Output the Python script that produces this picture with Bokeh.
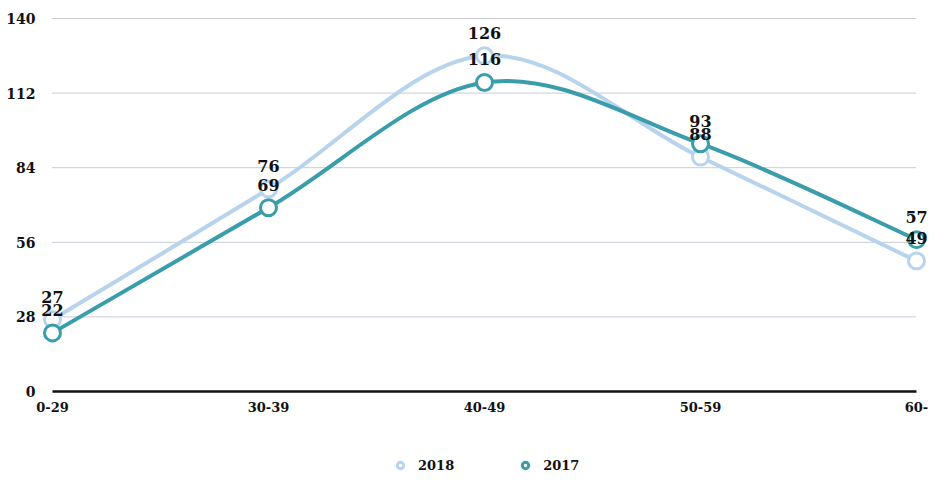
from bokeh.plotting import figure
from bokeh.models import (Range1d, Legend, LegendItem, ColumnDataSource, LabelSet)
from bokeh.embed import file_html
from bokeh.resources import INLINE
from bokeh.core.properties import value

categories = ["0-29", "30-39", "40-49", "50-59", "60-"]
values_2018 = [27, 76, 126, 88, 49]
values_2017 = [22, 69, 116, 93, 57]
y_ticks = [0, 28, 56, 84, 112, 140]

C2018 = "#b7d4ec"
C2017 = "#3a9dab"
FONT = "DejaVu Serif"

xs = list(range(len(categories)))

# frame spans the whole figure so labels/legend are never clipped
p = figure(width=931, height=473, output_backend="svg", toolbar_location=None,
           x_range=Range1d(-0.2407, 4.0694), y_range=Range1d(-30.78, 146.76),
           min_border_left=0, min_border_right=0, min_border_top=0, min_border_bottom=0)
p.outline_line_color = None
p.background_fill_color = "white"
p.border_fill_color = "white"
p.xgrid.visible = False
p.ygrid.visible = False
p.xaxis.visible = False
p.yaxis.visible = False

# gridlines across category span
p.segment(x0=[xs[0]] * (len(y_ticks) - 1), x1=[xs[-1]] * (len(y_ticks) - 1),
          y0=y_ticks[1:], y1=y_ticks[1:], line_color="#9398ad", line_width=1, line_dash="1 1")
p.segment(x0=[xs[0]], x1=[xs[-1]], y0=[y_ticks[0]], y1=[y_ticks[0]],
          line_color="#111111", line_width=2.5)


def bezier_src(x, y):
    n = len(x)
    d = dict(x0=[], y0=[], x1=[], y1=[], cx0=[], cy0=[], cx1=[], cy1=[])
    for i in range(n - 1):
        pm = i - 1 if i > 0 else 0
        pn = i + 2 if i + 2 < n else n - 1
        d["x0"].append(x[i]); d["y0"].append(y[i])
        d["x1"].append(x[i + 1]); d["y1"].append(y[i + 1])
        d["cx0"].append(x[i] + (x[i + 1] - x[pm]) / 6)
        d["cy0"].append(y[i] + (y[i + 1] - y[pm]) / 6)
        d["cx1"].append(x[i + 1] - (x[pn] - x[i]) / 6)
        d["cy1"].append(y[i + 1] - (y[pn] - y[i]) / 6)
    return ColumnDataSource(d)


for vals, col in [(values_2018, C2018), (values_2017, C2017)]:
    p.bezier(x0="x0", y0="y0", x1="x1", y1="y1", cx0="cx0", cy0="cy0", cx1="cx1", cy1="cy1",
             source=bezier_src(xs, vals), line_color=col, line_width=4)

r18 = p.scatter(xs, values_2018, size=16, fill_color="white", line_color=C2018, line_width=3)
r17 = p.scatter(xs, values_2017, size=16, fill_color="white", line_color=C2017, line_width=3)

for vals in [values_2018, values_2017]:
    src = ColumnDataSource(dict(x=xs, y=vals, t=[str(v) for v in vals]))
    p.add_layout(LabelSet(x="x", y="y", text="t", source=src, y_offset=17,
                          text_align="center", text_baseline="bottom",
                          text_font=value(FONT), text_font_style="bold",
                          text_font_size="16px", text_color="#111111"))

# category labels under the baseline
cat_src = ColumnDataSource(dict(x=xs, y=[0] * len(xs), t=categories))
p.add_layout(LabelSet(x="x", y="y", text="t", source=cat_src, y_offset=-11,
                      text_align="center", text_baseline="top",
                      text_font=value(FONT), text_font_style="bold",
                      text_font_size="13px", text_color="#111111"))

# value-axis labels
tick_src = ColumnDataSource(dict(x=[xs[0]] * len(y_ticks), y=y_ticks, t=[str(t) for t in y_ticks]))
p.add_layout(LabelSet(x="x", y="y", text="t", source=tick_src, x_offset=-17,
                      text_align="right", text_baseline="middle",
                      text_font=value(FONT), text_font_style="bold",
                      text_font_size="14px", text_color="#111111"))

legend = Legend(items=[LegendItem(label="2018", renderers=[r18]),
                       LegendItem(label="2017", renderers=[r17])],
                orientation="horizontal", location=(392, 0), spacing=63,
                label_standoff=10,
                label_text_font=FONT, label_text_font_style="bold",
                label_text_font_size="13px", label_text_color="#111111",
                border_line_color=None, background_fill_alpha=0,
                glyph_width=16, glyph_height=16, margin=0, padding=0)
p.add_layout(legend)

open("out.html", "w").write(file_html(p, INLINE))
